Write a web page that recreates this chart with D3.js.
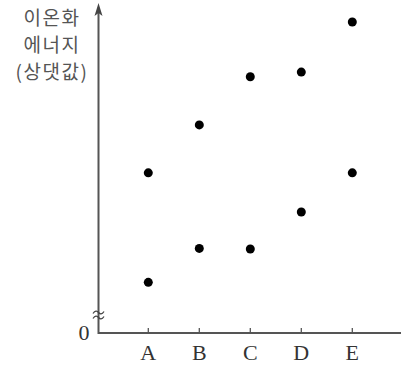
<!DOCTYPE html>
<html><head><meta charset="utf-8">
<script src="https://cdn.jsdelivr.net/npm/d3@7"></script>
<style>html,body{margin:0;padding:0;background:#fff}</style>
</head><body>
<script>
const categories = ["A","B","C","D","E"];
const lowValues  = [1.63, 2.72, 2.70, 3.89, 5.15];
const highValues = [5.15, 6.69, 8.24, 8.39, 10.0];
const yLabelLines = ["이온화","에너지","(상댓값)"];
const zeroLabel = "0";

const W = 401, H = 366;
const svg = d3.select("body").append("svg").attr("width", W).attr("height", H);

const x = d3.scalePoint().domain(categories).range([148.3, 352.3]);
const y = d3.scaleLinear().domain([0, 10]).range([333, 22]);
const axisColor = "#555";

// x axis
svg.append("line").attr("x1", 98.5).attr("x2", 401).attr("y1", y(0)).attr("y2", y(0))
  .attr("stroke", axisColor).attr("stroke-width", 2);
svg.selectAll(".xtick").data(categories).join("line")
  .attr("x1", d => x(d)).attr("x2", d => x(d)).attr("y1", y(0) - 5).attr("y2", y(0))
  .attr("stroke", axisColor).attr("stroke-width", 1.3);
svg.selectAll(".xlab").data(categories).join("text")
  .attr("x", d => x(d)).attr("y", 360)
  .attr("text-anchor", "middle")
  .attr("font-family", "Liberation Serif, serif").attr("font-size", 22)
  .attr("fill", "#333").text(d => d);

// y axis
svg.append("line").attr("x1", 98.5).attr("x2", 98.5).attr("y1", y(0) + 1).attr("y2", 12)
  .attr("stroke", axisColor).attr("stroke-width", 2);
svg.append("path").attr("d", "M98.5,3 L94.5,16 L98.5,13 L102.5,16 Z").attr("fill", "#444");
svg.append("text").attr("x", 84).attr("y", 340)
  .attr("text-anchor", "middle")
  .attr("font-family", "Liberation Serif, serif").attr("font-size", 22)
  .attr("fill", "#333").text(zeroLabel);

// break mark
[-2.5, 2.5].forEach(dy => {
  const cy = 315 + dy;
  svg.append("path")
    .attr("d", `M93,${cy+1} C95,${cy-2} 97,${cy-2} 98.5,${cy} S102,${cy+2} 104,${cy-1}`)
    .attr("fill", "none").attr("stroke", "#444").attr("stroke-width", 1.3);
});

// y label
svg.selectAll(".ylab").data(yLabelLines).join("text")
  .attr("x", 52).attr("y", (d, i) => 25 + i * 27)
  .attr("text-anchor", "middle")
  .attr("font-family", "Noto Sans CJK KR, sans-serif").attr("font-size", 19)
  .attr("letter-spacing", 1.5)
  .attr("fill", "#555").text(d => d);

// points
const pts = [];
categories.forEach((c, i) => { pts.push({c, v: lowValues[i]}); pts.push({c, v: highValues[i]}); });
svg.selectAll(".pt").data(pts).join("circle")
  .attr("cx", d => x(d.c)).attr("cy", d => y(d.v)).attr("r", 4.5).attr("fill", "#000");
</script>
</body></html>
